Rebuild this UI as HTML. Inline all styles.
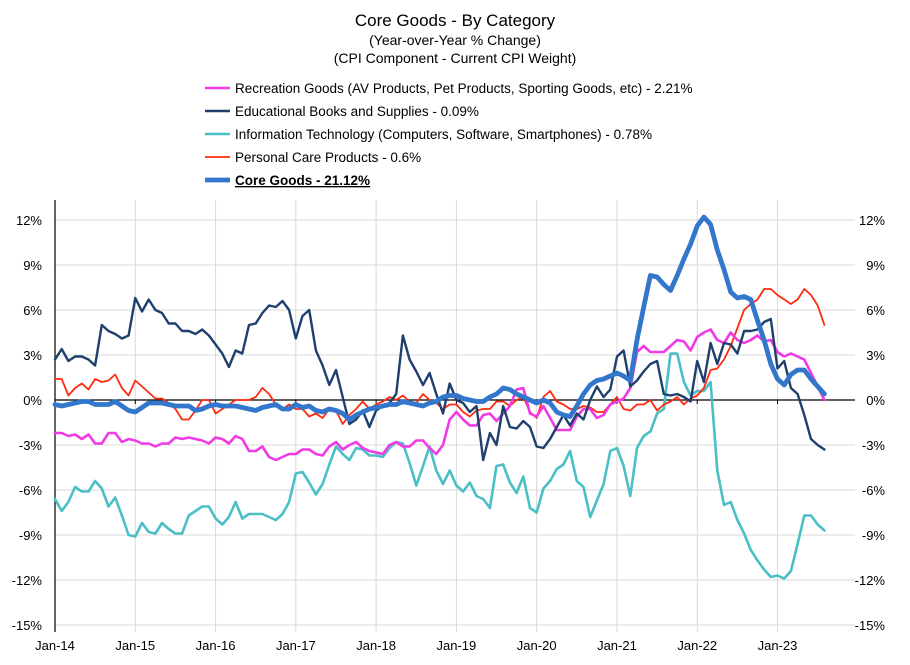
<!DOCTYPE html>
<html><head><meta charset="utf-8"><style>
body{margin:0;background:#fff;}
svg text{font-family:"Liberation Sans",sans-serif;fill:#000;}
</style></head><body>
<svg id="chart" width="910" height="660" viewBox="0 0 910 660">
<text x="455" y="26" text-anchor="middle" font-size="17">Core Goods - By Category</text>
<text x="455" y="45" text-anchor="middle" font-size="14">(Year-over-Year % Change)</text>
<text x="455" y="63" text-anchor="middle" font-size="14">(CPI Component - Current CPI Weight)</text>
<g id="grid"></g>
<g id="axes"></g>
<g id="series"></g>
<g id="legend"></g>
</svg>
<script>
const yTicks=[12,9,6,3,0,-3,-6,-9,-12,-15];
const xTickLabels=["Jan-14","Jan-15","Jan-16","Jan-17","Jan-18","Jan-19","Jan-20","Jan-21","Jan-22","Jan-23"];
const seriesNames=["Recreation Goods (AV Products, Pet Products, Sporting Goods, etc) - 2.21%","Educational Books and Supplies - 0.09%","Information Technology (Computers, Software, Smartphones) - 0.78%","Personal Care Products - 0.6%","Core Goods - 21.12%"];
const recreation=[-2.2,-2.2,-2.4,-2.3,-2.6,-2.3,-2.9,-2.9,-2.2,-2.2,-2.8,-2.6,-2.7,-2.9,-2.9,-3.1,-2.9,-2.9,-2.5,-2.6,-2.5,-2.6,-2.7,-2.9,-2.5,-2.6,-2.9,-2.4,-2.6,-3.4,-3.4,-3.1,-3.8,-4.0,-3.8,-3.6,-3.6,
-3.3,-3.3,-3.6,-3.7,-3.1,-2.8,-3.3,-3.0,-2.8,-3.2,-3.4,-3.5,-3.6,-3.0,-2.8,-3.1,-3.1,-2.7,-2.7,-3.2,-3.6,-3.0,-1.3,-0.8,-1.3,-1.7,-1.7,-1.0,-0.9,-1.4,-0.9,-0.4,0.7,0.8,
-0.9,-1.1,-0.4,-1.2,-2.0,-2.0,-2.0,-1.1,-0.6,-0.6,-1.2,-1.0,-0.3,-0.1,0.1,0.8,3.2,3.6,3.2,3.2,3.2,3.6,4.0,3.9,3.3,4.2,4.5,4.7,4.0,3.8,4.5,4.0,3.8,4.0,4.3,3.9,4.0,3.2,2.9,3.1,2.9,2.7,1.8,0.9,0.0];
const education=[2.7,3.4,2.6,2.9,2.9,2.7,2.3,5.0,4.6,4.4,4.1,4.3,6.8,5.9,6.7,6.0,5.8,5.1,5.1,4.6,4.6,4.4,4.7,4.3,3.7,3.1,2.2,3.3,3.1,5.0,5.1,5.8,6.3,6.2,6.6,6.0,4.1,
5.6,6.0,3.3,2.3,1.0,2.0,0.2,-1.6,-1.3,-0.7,-1.8,-0.7,-0.4,-0.2,0.4,4.3,2.7,1.9,1.0,1.8,0.4,-0.9,1.1,0,-0.2,-0.8,-0.4,-4.0,-2.2,-3.0,-0.4,-1.8,-1.9,-1.4,
-1.8,-3.1,-3.2,-2.6,-1.8,-1.0,-1.7,-0.9,-1.3,0,0.9,0.2,0.7,2.9,3.3,0.9,1.3,1.9,2.4,2.6,0.4,0.3,0.4,0.2,-0.1,2.6,1.2,3.8,2.4,3.8,3.7,3.1,4.6,4.6,4.7,5.2,5.4,2.1,2.6,0.8,0.4,-1.0,-2.6,-3.0,-3.3];
const infoTech=[-6.6,-7.4,-6.8,-5.8,-6.1,-6.1,-5.4,-5.9,-7.1,-6.5,-7.7,-9.0,-9.1,-8.2,-8.8,-8.9,-8.2,-8.6,-8.9,-8.9,-7.7,-7.4,-7.1,-7.1,-7.9,-8.3,-7.8,-6.8,-7.9,-7.6,-7.6,-7.6,-7.8,-8.0,-7.6,-6.8,-4.9,
-4.8,-5.5,-6.3,-5.6,-4.3,-3.1,-3.6,-4.0,-3.2,-3.3,-3.7,-3.7,-3.8,-3.2,-2.8,-2.9,-4.2,-5.7,-4.4,-3.1,-4.7,-5.6,-4.7,-5.7,-6.1,-5.5,-6.4,-6.6,-7.2,-4.4,-4.3,-5.5,-6.2,-5.1,
-7.2,-7.5,-5.9,-5.4,-4.6,-4.3,-3.4,-5.4,-5.8,-7.8,-6.7,-5.6,-3.4,-3.2,-4.4,-6.4,-3.2,-2.4,-2.1,-0.9,-0.6,3.1,3.1,1.2,0.3,0.6,0.6,1.2,-4.7,-7.0,-6.8,-8.0,-8.9,-10.0,-10.7,-11.3,-11.8,-11.7,-11.9,-11.4,-9.6,-7.7,-7.7,-8.3,-8.7];
const personalCare=[1.4,1.4,0.3,0.8,1.1,0.7,1.4,1.2,1.3,1.7,0.8,0.3,1.3,0.9,0.5,0.1,0.1,-0.2,-0.6,-1.3,-1.3,-0.7,0,0,-0.9,-0.6,-0.3,0,0,0,0.2,0.8,0.4,-0.3,-0.6,-0.3,-0.6,
-0.6,-1.1,-0.9,-1.2,-0.6,-0.7,-1.6,-1.0,-0.6,-0.1,-0.6,-0.3,-0.1,0.2,0,0.3,-0.1,-0.2,0.4,0,-0.2,-0.6,-0.3,-0.3,-0.8,-1.1,-0.7,-0.6,-0.6,-0.1,-0.1,-0.4,0,0.2,
-0.8,-1.2,0.2,0.6,-0.1,-0.3,-0.6,-0.6,-0.4,-0.5,-0.8,-0.8,-0.3,0.2,-0.6,-0.7,-0.3,-0.3,0,-0.7,-0.3,-0.1,0.2,-0.3,0.1,0.3,0.8,2.0,2.1,2.7,3.6,4.8,6.0,6.4,6.7,7.4,7.4,7.0,6.7,6.4,6.7,7.4,7.0,6.3,5.0];
const coreGoods=[-0.3,-0.4,-0.3,-0.2,-0.1,-0.1,-0.3,-0.3,-0.3,-0.1,-0.4,-0.7,-0.8,-0.5,-0.2,-0.2,-0.2,-0.3,-0.4,-0.4,-0.4,-0.7,-0.6,-0.4,-0.3,-0.4,-0.4,-0.4,-0.5,-0.6,-0.7,-0.5,-0.4,-0.3,-0.6,-0.6,-0.3,
-0.5,-0.4,-0.7,-0.8,-0.6,-0.7,-0.9,-1.3,-1.0,-0.8,-0.6,-0.5,-0.4,-0.3,-0.3,-0.1,-0.2,-0.3,-0.4,-0.2,-0.1,0.2,0.3,0.3,0.1,0,-0.1,-0.1,0.2,0.4,0.8,0.7,0.4,0.2,
0.0,-0.2,0,-0.2,-0.8,-1.0,-1.1,-0.4,0.4,1.0,1.3,1.4,1.6,1.8,1.6,1.3,4.0,6.2,8.3,8.2,7.7,7.3,8.3,9.4,10.4,11.6,12.2,11.7,10.0,8.7,7.2,6.8,6.9,6.7,5.3,4.0,2.4,1.4,1.0,1.7,2.0,2.0,1.4,0.9,0.4];

const NS="http://www.w3.org/2000/svg";
const X0=55, PX_PER_MONTH=6.69, Y0=400, PX_PER_PCT=15, XR=855;
function xs(m){return X0+m*PX_PER_MONTH;}
function ys(v){return Y0-v*PX_PER_PCT;}
function mk(tag,attrs,parent){const e=document.createElementNS(NS,tag);for(const k in attrs)e.setAttribute(k,attrs[k]);parent.appendChild(e);return e;}
const grid=document.getElementById('grid'), axes=document.getElementById('axes'), ser=document.getElementById('series'), leg=document.getElementById('legend');

yTicks.forEach(t=>{
  if(t!==0){const g=mk('line',{x1:X0,x2:XR,y1:ys(t),y2:ys(t),stroke:'#d9d9d9','stroke-width':1},grid);
  
  }
  const l=mk('text',{x:42,y:ys(t)+5,'text-anchor':'end','font-size':13},axes);l.textContent=t+'%';
  
  
  const r=mk('text',{x:885,y:ys(t)+5,'text-anchor':'end','font-size':13},axes);r.textContent=t+'%';
  
  
});
xTickLabels.forEach((lab,i)=>{
  const x=xs(i*12);
  if(i>0){const g=mk('line',{x1:x,x2:x,y1:200,y2:632,stroke:'#d9d9d9','stroke-width':1},grid);
  
  }
  const tk=mk('line',{x1:x,x2:x,y1:Y0,y2:Y0+4,stroke:'#000','stroke-width':1},axes);
  
  
  const t=mk('text',{x:x,y:650,'text-anchor':'middle','font-size':13},axes);t.textContent=lab;
  
  
});
const za=mk('line',{x1:X0,x2:XR,y1:Y0,y2:Y0,stroke:'#000','stroke-width':1.2},axes);


const ya=mk('line',{x1:X0,x2:X0,y1:200,y2:632,stroke:'#000','stroke-width':1.2},axes);



const defs=[
 {d:infoTech,c:'#4bbfc6',w:2.6,n:'line-information-technology'},
 {d:personalCare,c:'#ff2a0f',w:1.8,n:'line-personal-care'},
 {d:recreation,c:'#f03ae6',w:2.6,n:'line-recreation-goods'},
 {d:education,c:'#1f3f6e',w:2.4,n:'line-educational-books'},
 {d:coreGoods,c:'#3277cc',w:4.8,n:'line-core-goods'}
];
defs.forEach(s=>{
  const pts=s.d.map((v,i)=>xs(i).toFixed(1)+','+ys(v).toFixed(1)).join(' ');
  const p=mk('polyline',{points:pts,fill:'none',stroke:s.c,'stroke-width':s.w,'stroke-linejoin':'round','stroke-linecap':'round'},ser);
  
  
});

const legCols=['#f03ae6','#1f3f6e','#4bbfc6','#ff2a0f','#3277cc'];
const legW=[2.6,2.4,2.6,1.8,4.8];
seriesNames.forEach((nm,i)=>{
  const y=88+i*23;
  const ln=mk('line',{x1:205,x2:230,y1:y,y2:y,stroke:legCols[i],'stroke-width':legW[i]},leg);
  
  
  const t=mk('text',{x:235,y:y+5,'font-size':13.5},leg);t.textContent=nm;
  if(i===4){t.setAttribute('font-weight','bold');t.setAttribute('text-decoration','underline');}
  
  
});
</script>
</body></html>
